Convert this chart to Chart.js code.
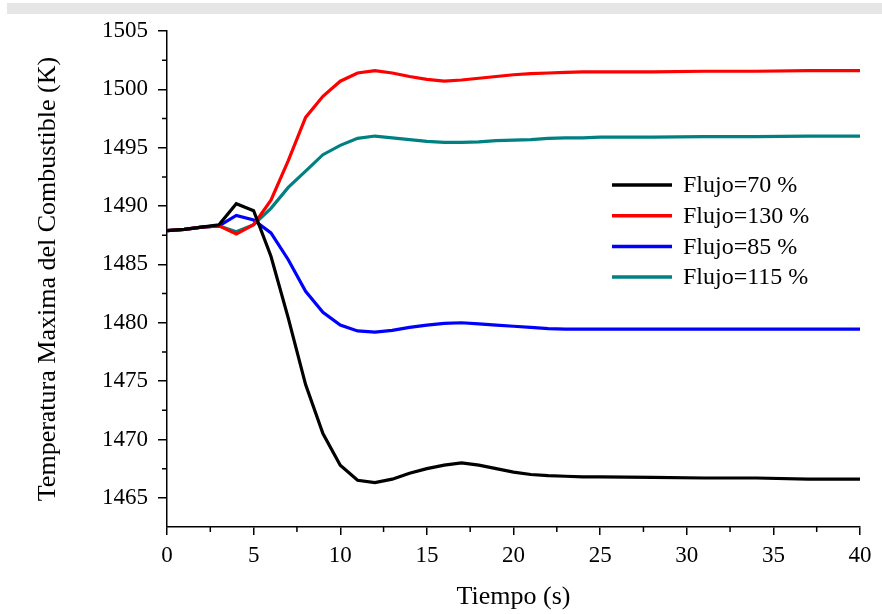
<!DOCTYPE html>
<html>
<head>
<meta charset="utf-8">
<script src="https://cdn.jsdelivr.net/npm/chart.js@4/dist/chart.umd.min.js"></script>
<style>
  body { margin: 0; background: #fff; }
  #caja { position: relative; width: 882px; height: 614px; }
  #barra { position: absolute; top: 3px; left: 7px; right: 0; height: 11px; background: #e6e6e6; }
  #graf { position: absolute; left: 0; top: 0; }
</style>
</head>
<body>
<div id="caja">
  <div id="barra"></div>
  <canvas id="graf" width="882" height="614"></canvas>
</div>
<script>
// datos
const tiempo = [0, 1, 2, 3, 4, 5, 6, 7, 8, 9, 10, 11, 12, 13, 14, 15, 16, 17, 18, 19, 20, 21, 22, 23, 24, 25, 28, 31, 34, 37, 40]

const flujo70 = [1487.9, 1488.0, 1488.2, 1488.4, 1490.2, 1489.6, 1485.7, 1480.4, 1474.7, 1470.5, 1467.8, 1466.5, 1466.3, 1466.6, 1467.1, 1467.5, 1467.8, 1468.0, 1467.8, 1467.5, 1467.2, 1467.0, 1466.9, 1466.85, 1466.8, 1466.8, 1466.75, 1466.7, 1466.7, 1466.6, 1466.6]
const flujo130 = [1487.9, 1488.0, 1488.2, 1488.3, 1487.6, 1488.4, 1490.5, 1493.9, 1497.6, 1499.4, 1500.7, 1501.4, 1501.6, 1501.4, 1501.1, 1500.85, 1500.7, 1500.8, 1500.95, 1501.1, 1501.25, 1501.35, 1501.4, 1501.45, 1501.5, 1501.5, 1501.5, 1501.55, 1501.55, 1501.6, 1501.6]
const flujo85 = [1487.9, 1488.0, 1488.2, 1488.3, 1489.2, 1488.8, 1487.7, 1485.4, 1482.7, 1480.9, 1479.8, 1479.3, 1479.2, 1479.35, 1479.6, 1479.8, 1479.95, 1480.0, 1479.9, 1479.8, 1479.7, 1479.6, 1479.5, 1479.45, 1479.45, 1479.45, 1479.45, 1479.45, 1479.45, 1479.45, 1479.45]
const flujo115 = [1487.9, 1488.0, 1488.2, 1488.3, 1487.8, 1488.4, 1489.8, 1491.6, 1493.0, 1494.4, 1495.2, 1495.8, 1496.0, 1495.85, 1495.7, 1495.55, 1495.45, 1495.45, 1495.5, 1495.6, 1495.65, 1495.7, 1495.8, 1495.85, 1495.85, 1495.9, 1495.9, 1495.95, 1495.95, 1496.0, 1496.0]

const etiquetas = ['Flujo=70 %', 'Flujo=130 %', 'Flujo=85 %', 'Flujo=115 %']
const xTicks = [0, 5, 10, 15, 20, 25, 30, 35, 40]
const yTicks = [1465, 1470, 1475, 1480, 1485, 1490, 1495, 1500, 1505]
const xMinor = [2.5, 7.5, 12.5, 17.5, 22.5, 27.5, 32.5, 37.5]
const yMinor = [1467.5, 1472.5, 1477.5, 1482.5, 1487.5, 1492.5, 1497.5, 1502.5]

const colores = ['#000000', '#ff0000', '#0000ff', '#008080']
const series = [flujo70, flujo130, flujo85, flujo115]

Chart.defaults.font.family = "'Liberation Serif', 'Times New Roman', serif"
Chart.defaults.color = '#000'

const puntos = s => tiempo.map((t, i) => ({ x: t, y: s[i] }))

// marcas menores y leyenda dentro del grafico
const extras = {
  id: 'extras',
  afterDraw(chart) {
    const c = chart.ctx
    const xs = chart.scales.x, ys = chart.scales.y
    const area = chart.chartArea
    c.save()
    c.strokeStyle = '#000'
    c.lineWidth = 1.5
    c.beginPath()
    yMinor.forEach(v => {
      const y = ys.getPixelForValue(v)
      c.moveTo(area.left - 5, y); c.lineTo(area.left, y)
    })
    xMinor.forEach(v => {
      const x = xs.getPixelForValue(v)
      c.moveTo(x, area.bottom); c.lineTo(x, area.bottom + 5)
    })
    c.stroke()

    c.font = "24px 'Liberation Serif', 'Times New Roman', serif"
    c.textBaseline = 'middle'
    c.fillStyle = '#000'
    chart.data.datasets.forEach((d, i) => {
      const y = 185 + i * 30.7
      c.strokeStyle = d.borderColor
      c.lineWidth = 3.5
      c.beginPath()
      c.moveTo(612, y); c.lineTo(672, y)
      c.stroke()
      c.fillText(d.label, 683, y + 1)
    })
    c.restore()
  }
}

const ctx = document.getElementById('graf').getContext('2d')

const config = {
  type: 'line',
  data: {
    datasets: series.map((s, i) => ({
      label: etiquetas[i],
      data: puntos(s),
      borderColor: colores[i],
      backgroundColor: colores[i],
      borderWidth: 3.2,
      pointRadius: 0,
      tension: 0,
      fill: false
    }))
  },
  options: {
    responsive: false,
    animation: false,
    layout: { padding: { top: 31, right: 22, left: 0, bottom: 0 } },
    plugins: {
      legend: { display: false },
      tooltip: { enabled: false }
    },
    scales: {
      x: {
        type: 'linear',
        min: 0,
        max: 40,
        afterBuildTicks: s => { s.ticks = xTicks.map(v => ({ value: v })) },
        afterFit: s => { s.height = 87 },
        ticks: { autoSkip: false, maxRotation: 0, padding: 7, font: { size: 23 }, callback: v => String(v) },
        grid: { drawOnChartArea: false, drawTicks: true, tickLength: 8, color: '#000', lineWidth: 1.5 },
        border: { display: true, color: '#000', width: 1.5 },
        title: { display: true, text: 'Tiempo (s)', font: { size: 26 }, padding: { top: 0, bottom: 1 } }
      },
      y: {
        type: 'linear',
        min: 1462.5,
        max: 1505,
        afterBuildTicks: s => { s.ticks = yTicks.map(v => ({ value: v })) },
        afterFit: s => { s.width = 167 },
        ticks: { autoSkip: false, padding: 10, font: { size: 23 }, callback: v => String(v) },
        grid: { drawOnChartArea: false, drawTicks: true, tickLength: 9, color: '#000', lineWidth: 1.5 },
        border: { display: true, color: '#000', width: 1.5 },
        title: { display: true, text: 'Temperatura Maxima del Combustible (K)', font: { size: 26 }, padding: { top: 33, bottom: 0 } }
      }
    }
  },
  plugins: [extras]
}

const grafico = new Chart(ctx, config)
</script>
</body>
</html>
